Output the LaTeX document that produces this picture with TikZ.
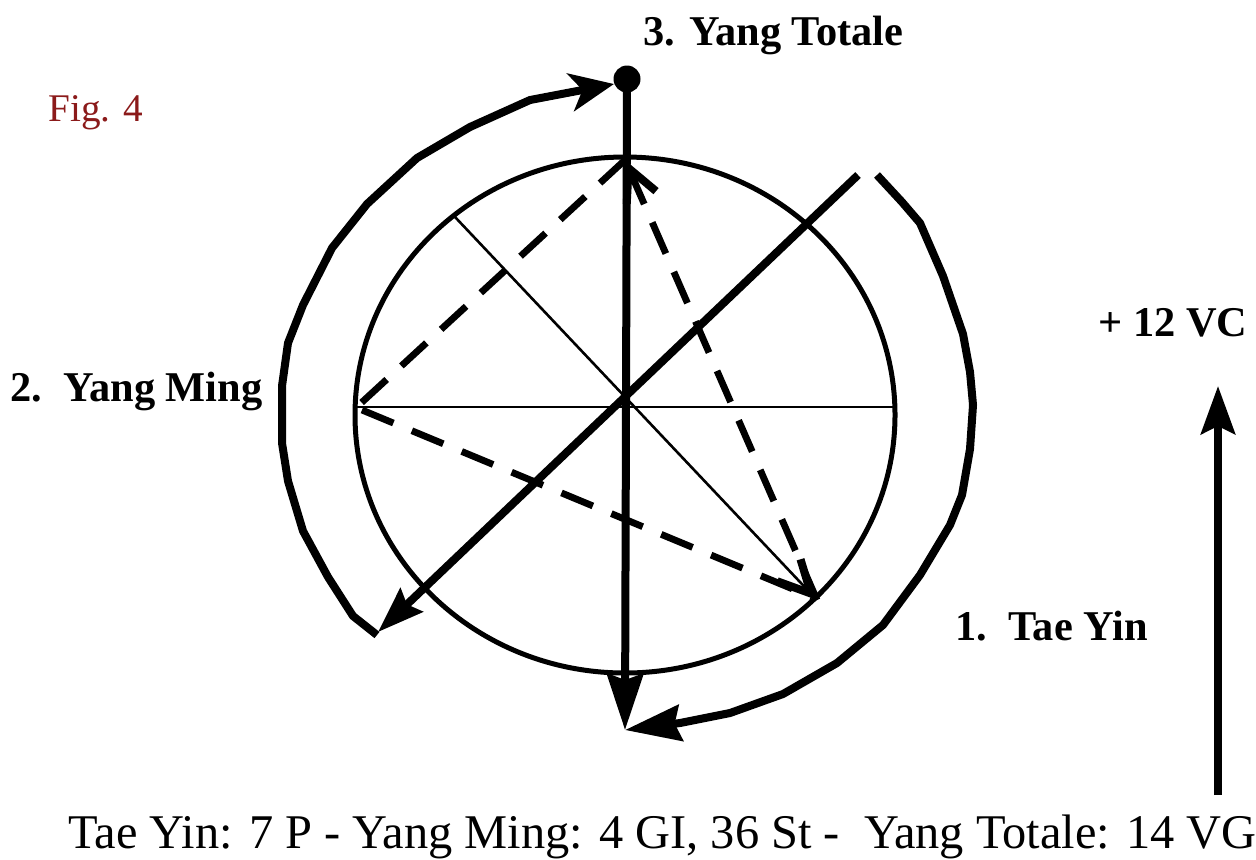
\documentclass[tikz,border=0pt]{standalone}
\usepackage{fontspec}
\setmainfont{Liberation Serif}
\usetikzlibrary{arrows.meta}
\definecolor{figred}{HTML}{8B1A1A}

\begin{document}
\begin{tikzpicture}[x=0.5pt,y=-0.5pt,
    phase/.style={font=\fontsize{21.2}{24}\selectfont\bfseries, anchor=base west, inner sep=0pt},
    rim/.style={line width=2.5pt},
    spoke/.style={line width=1.3pt},
    heavy/.style={line width=4pt, line join=round},
    dashline/.style={line width=3.4pt, dash pattern=on 17pt off 10pt},
    flow/.style={heavy, -{Stealth[length=28pt,width=18pt,inset=3pt]}},
    turn/.style={heavy, -{Stealth[length=22pt,width=19pt,inset=6pt]}},
    barb/.style={-{Straight Barb[length=16pt,width=16pt,line width=4pt]}}
  ]
    \useasboundingbox (0,0) rectangle (1256,859);

    % points of the wheel
    \coordinate (hub) at (625,407);
    \coordinate (top) at (625,160);
    \coordinate (west) at (360,404);
    \coordinate (east) at (895,407);
    \coordinate (rimwest) at (355,407);
    \coordinate (nw) at (455,217);
    \coordinate (se) at (817,600);
    \coordinate (apex) at (627,79);
    \coordinate (south) at (625,730);
    \coordinate (ne) at (858,175);
    \coordinate (sw) at (378,632);

    \draw[rim] (625,415) ellipse [x radius=270, y radius=258];
    \draw[spoke] (rimwest) -- (east);
    \draw[spoke, barb] (nw) -- (se);

    % dashed triangle
    \draw[dashline] (top) -- (west);
    \draw[dashline] (362,410) -- (812,597);
    \draw[dashline, barb] (se) -- (top);

    % axes
    \draw[flow] (apex) -- (south);
    \draw[heavy, -{Stealth[length=23pt,width=16pt,inset=3pt]}] (ne) -- (sw);
    \fill (apex) circle [radius=13.5];

    % outer turns
    \draw[turn] (377,635) -- (353,616) -- (328,577) -- (303,531) -- (288,481)
      -- (282,443) -- (282,386) -- (288,343) -- (303,305) -- (332,248)
      -- (367,204) -- (417,158) -- (470,127) -- (530,100) -- (614,84);
    \draw[flow] (877,175) -- (902,202) -- (920,223) -- (943,276) -- (963,334)
      -- (970,372) -- (973,405) -- (970,449) -- (962,495) -- (950,525)
      -- (920,575) -- (883,625) -- (837,663) -- (783,694) -- (730,713)
      -- (680,723) -- (south);

    % side arrow
    \coordinate (vcfoot) at (1218,795);
    \coordinate (vchead) at (1218,386);
    \draw[heavy, -{Stealth[length=24pt,width=17pt,inset=4pt]}] (vcfoot) -- (vchead);

    \node[phase] (totale) at (643,45) {3. Yang Totale};
    \node[phase] (ming) at (10,401) {2.\ \ Yang Ming};
    \node[phase] (taeyin) at (955,640) {1.\ \ Tae Yin};
    \node[phase] (vc) at (1098,336) {+ 12 VC};
    \node[anchor=base west, inner sep=0pt, text=figred, font=\fontsize{19.6}{24}\selectfont] (fig) at (48,121) {Fig. 4};
    \node[anchor=base west, inner sep=0pt, font=\fontsize{24.2}{28}\selectfont] (legend) at (68,848)
      {Tae Yin: 7 P - Yang Ming: 4 GI, 36 St -\ \ Yang Totale: 14 VG};
\end{tikzpicture}
\end{document}
